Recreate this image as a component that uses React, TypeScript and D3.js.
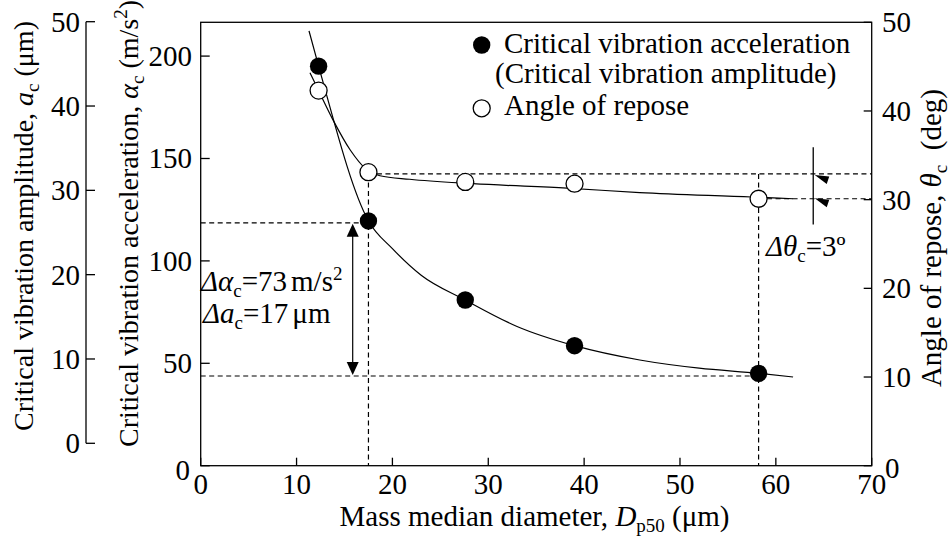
import React from 'react';
import * as d3 from 'd3';

// ---------- data ----------
const diameters = [12.3, 17.5, 27.6, 39.0, 58.2];
const criticalAccel = [195.1, 119.5, 80.9, 58.6, 45.1];
const reposeAngle = [42.3, 33.1, 32.0, 31.8, 30.1];

const accelFitD = [11.3, 12.3, 17.5, 20.0, 23.0, 27.6, 33.0, 39.0, 45.8, 52.0, 58.2, 61.8];
const accelFitV = [212.3, 195.1, 119.5, 106, 93, 80.9, 68, 58.6, 51.6, 47.6, 45.1, 43.3];

const angleFitD = [11.4, 12.3, 13.8, 15.6, 17.2, 18.7, 21.8, 28.4, 38.2, 45.8, 57.5, 61.8];
const angleFitV = [44.3, 42.3, 39.0, 35.6, 33.5, 32.7, 32.3, 31.8, 31.3, 30.8, 30.3, 30.1];

const xTicks = [0, 10, 20, 30, 40, 50, 60, 70];
const accTicks = [0, 50, 100, 150, 200];
const ampTicks = [0, 10, 20, 30, 40, 50];
const angTicks = [0, 10, 20, 30, 40, 50];

const accelHigh = 118.6;
const accelLow = 43.8;
const angleHigh = 32.9;
const angleLow = 30.1;
const dHigh = 17.5;
const dLow = 58.2;
const markerD = 63.9;
const markerAngleTop = 35.9;
const markerAngleBottom = 27.2;

// ---------- layout ----------
const W = 952;
const H = 550;
const TS: React.CSSProperties = { fontFamily: '"Liberation Serif", serif' };

const x = d3.scaleLinear().domain([0, 70]).range([200.7, 871.7]);
const yAcc = d3.scaleLinear().domain([0, 216.5]).range([465.7, 22.3]);
const yAng = d3.scaleLinear().domain([0, 50]).range([465.7, 22.3]);
const yAmp = d3.scaleLinear().domain([0, 50]).range([443.3, 21.7]);

const accLine = d3
  .line<number>()
  .x((_, i) => x(accelFitD[i]))
  .y((v) => yAcc(v))
  .curve(d3.curveMonotoneX);
const angLine = d3
  .line<number>()
  .x((_, i) => x(angleFitD[i]))
  .y((v) => yAng(v))
  .curve(d3.curveMonotoneX);

const SW = 1.3;
const DASH = '5,3.5';

export default function App() {
  const fs = 29;
  const sub = 19;
  const arrowX = 352.7;
  const yA1 = yAcc(accelHigh);
  const yA2 = yAcc(accelLow);
  const mx = x(markerD);
  return (
    <svg width={W} height={H} style={{ position: 'absolute', left: 0, top: 0, background: '#fff' }}>
      <rect x={0} y={0} width={W} height={H} fill="#fff" />

      {/* dashed guide lines */}
      <g stroke="#000" strokeWidth={1.2} strokeDasharray={DASH} fill="none">
        <line x1={x(0)} x2={x(dHigh)} y1={yAcc(accelHigh)} y2={yAcc(accelHigh)} />
        <line x1={x(0)} x2={x(dLow)} y1={yAcc(accelLow)} y2={yAcc(accelLow)} />
        <line x1={x(dHigh)} x2={x(70)} y1={yAng(angleHigh)} y2={yAng(angleHigh)} />
        <line x1={x(dLow)} x2={x(70)} y1={yAng(angleLow)} y2={yAng(angleLow)} />
        <line x1={x(dHigh)} x2={x(dHigh)} y1={yAng(angleHigh)} y2={yAcc(0)} />
        <line x1={x(dLow)} x2={x(dLow)} y1={yAng(angleHigh)} y2={yAcc(0)} />
      </g>

      {/* fitted curves */}
      <path d={accLine(accelFitV) || ''} fill="none" stroke="#000" strokeWidth={1.2} />
      <path d={angLine(angleFitV) || ''} fill="none" stroke="#000" strokeWidth={1.2} />

      {/* frame */}
      <g stroke="#000" strokeWidth={SW} fill="none">
        <rect x={x(0)} y={yAng(50)} width={x(70) - x(0)} height={yAng(0) - yAng(50)} />
        {xTicks.map((t) => (
          <line key={'xt' + t} x1={x(t)} x2={x(t)} y1={yAcc(0)} y2={yAcc(0) - 8} />
        ))}
        {accTicks.map((t) => (
          <line key={'at' + t} x1={x(0)} x2={x(0) + 9} y1={yAcc(t)} y2={yAcc(t)} />
        ))}
        {angTicks.map((t) => (
          <line key={'gt' + t} x1={x(70)} x2={x(70) - 8} y1={yAng(t)} y2={yAng(t)} />
        ))}
        {/* separate amplitude axis */}
        <line x1={86} x2={86} y1={yAmp(0)} y2={yAmp(50)} />
        {ampTicks.map((t) => (
          <line key={'mt' + t} x1={86} x2={95} y1={yAmp(t)} y2={yAmp(t)} />
        ))}
      </g>

      {/* tick labels */}
      <g fontSize={fs} fill="#000">
        {xTicks.map((t) => (
          <text key={'xl' + t} style={TS} x={x(t)} y={494} textAnchor="middle">
            {t}
          </text>
        ))}
        {accTicks.map((t) => (
          <text key={'al' + t} style={TS} x={t === 0 ? 190 : 192} y={yAcc(t) + (t === 0 ? 14 : 10)} textAnchor="end">
            {t}
          </text>
        ))}
        {ampTicks.map((t) => (
          <text key={'ml' + t} style={TS} x={80} y={yAmp(t) + 10} textAnchor="end">
            {t}
          </text>
        ))}
        {angTicks.map((t) => (
          <text key={'gl' + t} style={TS} x={t === 0 ? 885 : 882} y={yAng(t) + (t === 0 ? 12 : 10)} textAnchor="start">
            {t}
          </text>
        ))}
      </g>

      {/* axis titles */}
      <text style={TS} x={534.5} y={526} fontSize={fs} textAnchor="middle">
        Mass median diameter,{' '}
        <tspan fontStyle="italic">D</tspan>
        <tspan fontSize={sub} dy={6}>p50</tspan>
        <tspan dy={-6}>{'\u00a0'}(μm)</tspan>
      </text>
      <text style={TS} transform="translate(33,226) rotate(-90)" fontSize={28} textAnchor="middle">
        Critical vibration amplitude,{' '}
        <tspan fontStyle="italic">a</tspan>
        <tspan fontSize={sub} dy={6}>c</tspan>
        <tspan dy={-6}>{'\u00a0'}(μm)</tspan>
      </text>
      <text style={TS} transform="translate(138,447) rotate(-90)" fontSize={28} textAnchor="start">
        Critical vibration acceleration,{' '}
        <tspan fontStyle="italic">α</tspan>
        <tspan fontSize={sub} dy={6}>c</tspan>
        <tspan dy={-6}>{'\u00a0'}(m/s</tspan>
        <tspan fontSize={sub} dy={-11}>2</tspan>
        <tspan dy={11}>)</tspan>
      </text>
      <text style={TS} transform="translate(941,89) rotate(-90)" fontSize={fs} textAnchor="end">
        Angle of repose,{' '}
        <tspan fontStyle="italic">θ</tspan>
        <tspan fontSize={sub} dy={6}>c</tspan>
        <tspan dy={-6}>{'\u00a0\u00a0'}(deg)</tspan>
      </text>

      {/* data points */}
      {diameters.map((d, i) => (
        <circle key={'f' + i} cx={x(d)} cy={yAcc(criticalAccel[i])} r={8.7} fill="#000" />
      ))}
      {diameters.map((d, i) => (
        <circle
          key={'h' + i}
          cx={x(d)}
          cy={yAng(reposeAngle[i])}
          r={8.5}
          fill="#fff"
          stroke="#000"
          strokeWidth={1.3}
        />
      ))}

      {/* legend */}
      <circle cx={481.7} cy={45} r={8.7} fill="#000" />
      <circle cx={481.7} cy={108.3} r={8.5} fill="#fff" stroke="#000" strokeWidth={1.3} />
      <g fontSize={fs}>
        <text style={TS} x={504} y={53.3}>Critical vibration acceleration</text>
        <text style={TS} x={495} y={83}>(Critical vibration amplitude)</text>
        <text style={TS} x={504} y={115}>Angle of repose</text>
      </g>

      {/* Δα arrow */}
      <line x1={arrowX} x2={arrowX} y1={yA1 + 12} y2={yA2 - 12} stroke="#000" strokeWidth={1.2} />
      <path d={`M${arrowX},${yA1 + 1} L${arrowX - 6},${yA1 + 14} L${arrowX + 6},${yA1 + 14} Z`} fill="#000" />
      <path d={`M${arrowX},${yA2 - 1} L${arrowX - 6},${yA2 - 14} L${arrowX + 6},${yA2 - 14} Z`} fill="#000" />
      <g fontSize={fs}>
        <text style={TS} x={201} y={290.7}>
          <tspan fontStyle="italic">Δα</tspan>
          <tspan fontSize={sub} dy={6}>c</tspan>
          <tspan dy={-6}>=73</tspan>
          <tspan dx={4}>m/s</tspan>
          <tspan fontSize={sub} dy={-11}>2</tspan>
        </text>
        <text style={TS} x={203} y={323.3}>
          <tspan fontStyle="italic">Δa</tspan>
          <tspan fontSize={sub} dy={6}>c</tspan>
          <tspan dy={-6}>=17</tspan>
          <tspan dx={4}>μm</tspan>
        </text>
        <text style={TS} x={766} y={256}>
          <tspan fontStyle="italic">Δθ</tspan>
          <tspan fontSize={sub} dy={6}>c</tspan>
          <tspan dy={-6}>=3º</tspan>
        </text>
      </g>

      {/* Δθ marker */}
      <line x1={mx} x2={mx} y1={yAng(markerAngleTop)} y2={yAng(markerAngleBottom)} stroke="#000" strokeWidth={1.3} />
      <path
        d={`M${mx + 1.5},${yAng(angleHigh) + 1} L${mx + 16},${yAng(angleHigh) + 2.5} L${mx + 13.5},${yAng(angleHigh) + 10} Z`}
        fill="#000"
      />
      <path
        d={`M${mx + 1.5},${yAng(angleLow) - 0.5} L${mx + 16},${yAng(angleLow) + 1} L${mx + 13.5},${yAng(angleLow) + 8.5} Z`}
        fill="#000"
      />
    </svg>
  );
}
